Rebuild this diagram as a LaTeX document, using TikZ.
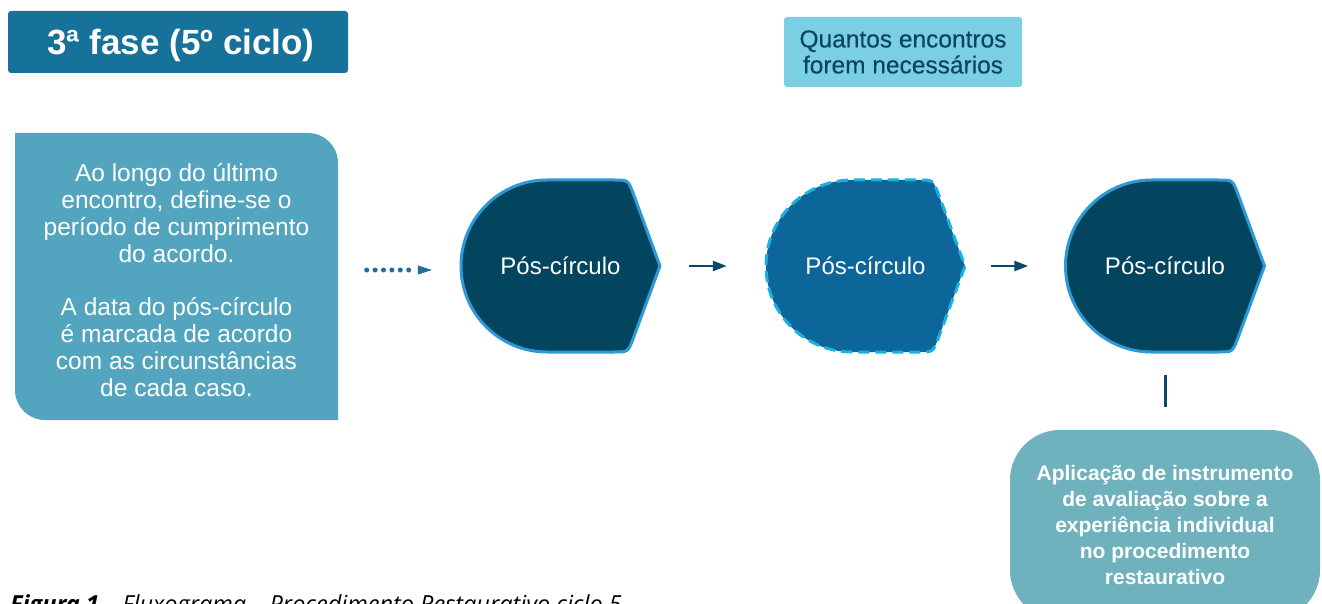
\documentclass[tikz,border=0pt]{standalone}
\usepackage{fontspec}
\setmainfont{Liberation Sans}
\newfontfamily\capfont{Open Sans}
\newfontfamily\medfont[FakeBold=0.25]{Liberation Sans}
\usetikzlibrary{arrows.meta,calc}
\definecolor{titlec}{RGB}{22,114,154}
\definecolor{leftc}{RGB}{83,165,191}
\definecolor{topc}{RGB}{122,207,227}
\definecolor{toptext}{RGB}{11,68,96}
\definecolor{darkshape}{RGB}{3,68,94}
\definecolor{shapeborder}{RGB}{44,154,214}
\definecolor{midshape}{RGB}{12,102,153}
\definecolor{dashborder}{RGB}{27,176,227}
\definecolor{arrc}{RGB}{10,74,102}
\definecolor{dotc}{RGB}{27,111,152}
\definecolor{bottomc}{RGB}{111,178,189}
\tikzset{
  titlebox/.style={fill=titlec, rounded corners=3pt, minimum width=340pt, minimum height=62pt, inner sep=0pt, text=white, text height=25pt, text depth=0pt, font=\fontsize{35}{40}\selectfont\bfseries},
  topbox/.style={fill=topc, rounded corners=3pt, minimum width=238pt, minimum height=70pt, inner sep=0pt, text=toptext, align=center, font=\medfont\fontsize{24.5}{26}\selectfont},
  lefttext/.style={minimum width=323pt, minimum height=287pt, inner sep=0pt, text=white, align=center, font=\fontsize{24.5}{26.8}\selectfont},
  shapetext/.style={minimum width=199pt, minimum height=172pt, inner sep=0pt, text=white, text height=17pt, text depth=0pt, font=\fontsize{24}{28}\selectfont},
  darkfill/.style={fill=darkshape, draw=shapeborder, line width=3pt, line join=round},
  midfill/.style={fill=midshape, draw=dashborder, line width=3pt, dash pattern=on 11pt off 6pt, line join=round},
  bottombox/.style={fill=bottomc, rounded corners=50pt, minimum width=310pt, minimum height=190pt, inner sep=0pt, text=white, align=center, font=\fontsize{21}{26}\selectfont\bfseries},
  flowarrow/.style={draw=arrc, line width=2.5pt, -{Triangle[length=14pt,width=10pt]}},
}
\begin{document}
\begin{tikzpicture}[x=1pt,y=-1pt]
\path[use as bounding box, clip] (0,0) rectangle (1322,604);
\fill[white] (0,0) rectangle (1322,604);

% title
\node[titlebox] (title) at (178,42) {\hspace*{6pt}3ª fase (5º ciclo)};

% top note
\node[topbox] (note) at (903,52) {Quantos encontros\\forem necessários};

% left box background
\fill[leftc] (15,133) -- (308,133) arc[start angle=-90,end angle=0,radius=30] -- (338,420) -- (45,420) arc[start angle=90,end angle=180,radius=30] -- cycle;
\node[lefttext] (lb) at (176.5,280) {Ao longo do último\\encontro, define-se o\\período de cumprimento\\do acordo.\\[26.8pt]A data do pós-círculo\\é marcada de acordo\\com as circunstâncias\\de cada caso.};

% shapes
\begin{scope}[shift={(560.5,266)}]
\filldraw[darkfill] (-13.5,86) arc[start angle=90,end angle=270,radius=86] -- (53.5,-86) .. controls (67.5,-86) .. (72.5,-73) -- (99.5,0) -- (72.5,73) .. controls (67.5,86) .. (53.5,86) -- cycle;
\end{scope}
\begin{scope}[shift={(865.5,266)}]
\filldraw[midfill] (-13.5,86) arc[start angle=90,end angle=270,radius=86] -- (53.5,-86) .. controls (67.5,-86) .. (72.5,-73) -- (99.5,0) -- (72.5,73) .. controls (67.5,86) .. (53.5,86) -- cycle;
\end{scope}
\begin{scope}[shift={(1165,266)}]
\filldraw[darkfill] (-13.5,86) arc[start angle=90,end angle=270,radius=86] -- (53.5,-86) .. controls (67.5,-86) .. (72.5,-73) -- (99.5,0) -- (72.5,73) .. controls (67.5,86) .. (53.5,86) -- cycle;
\end{scope}
\node[shapetext] (s1) at (560.5,266) {Pós-círculo};
\node[shapetext] (s2) at (865.5,266) {Pós-círculo};
\node[shapetext] (s3) at (1165,266) {Pós-círculo};

% bottom box
\node[bottombox] (bb) at (1165,525) {Aplicação de instrumento\\de avaliação sobre a\\experiência individual\\no procedimento\\restaurativo};

% connectors
\draw[dotc, line width=5pt, line cap=round, dash pattern=on 0pt off 8.4pt, shorten <=28.5pt, shorten >=51pt] ($(lb.east |- s1.west)+(0,4)$) -- ($(s1.west)+(0,4)$);
\draw[dotc, line width=1pt, -{Triangle[length=14pt,width=9pt]}, shorten <=80pt, shorten >=29pt] ($(lb.east |- s1.west)+(0,4)$) -- ($(s1.west)+(0,4)$);
\draw[flowarrow, shorten <=29pt, shorten >=39pt] (s1) -- (s2);
\draw[flowarrow, shorten <=26pt, shorten >=37pt] (s2) -- (s3);
\draw[arrc, line width=3pt, shorten <=23pt, shorten >=23pt] (s3.south) -- (bb.north);

% caption (cut off at the bottom edge, as in the reference)
\node[anchor=base west, inner sep=0pt, font=\capfont\itshape\fontsize{23.5}{28}\selectfont] (cap) at (10,612) {\bfseries Figura 1 –\mdseries{} Fluxograma – Procedimento Restaurativo ciclo 5};
\end{tikzpicture}
\end{document}
